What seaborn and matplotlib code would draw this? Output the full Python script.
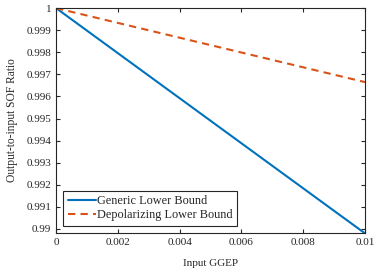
import numpy as np
import pandas as pd
import matplotlib
matplotlib.use("Agg")
import matplotlib.pyplot as plt
import matplotlib.ticker as mticker
import seaborn as sns

# === Data ===
ggep = [0.0, 0.01]
generic_bound = [1.0, 0.9898]
depol_bound = [1.0, 0.99665]
series_names = ["Generic Lower Bound", "Depolarizing Lower Bound"]
x_ticks = [0, 0.002, 0.004, 0.006, 0.008, 0.01]
y_ticks = [0.99, 0.991, 0.992, 0.993, 0.994, 0.995, 0.996, 0.997, 0.998, 0.999, 1.0]

df = pd.DataFrame({
    "ggep": ggep * 2,
    "ratio": generic_bound + depol_bound,
    "bound": [series_names[0]] * 2 + [series_names[1]] * 2,
})

# === Style ===
sns.set_theme(style="ticks")
plt.rcParams["font.family"] = ["Liberation Serif", "DejaVu Serif"]
plt.rcParams["axes.linewidth"] = 0.8

fig = plt.figure(figsize=(3.74, 2.80), dpi=100)
ax = fig.add_axes([0.150, 0.168, 0.826, 0.803])

sns.lineplot(
    data=df, x="ggep", y="ratio", hue="bound", style="bound",
    palette=["#0072BD", "#D95319"],
    dashes={series_names[0]: "", series_names[1]: (3.5, 2.5)},
    linewidth=1.5, ax=ax,
)

ax.set_xlim(0, 0.01)
ax.set_ylim(0.98982, 1.0)
ax.set_xticks(x_ticks)
ax.set_yticks(y_ticks)
ax.xaxis.set_major_formatter(mticker.FormatStrFormatter("%g"))
ax.yaxis.set_major_formatter(mticker.FormatStrFormatter("%g"))
ax.tick_params(direction="in", length=3, width=0.8, labelsize=8,
               top=True, right=True, colors="#262626", labelcolor="#262626")
for s in ax.spines.values():
    s.set_visible(True)
    s.set_color("#262626")

ax.set_xlabel("Input GGEP", fontsize=8, labelpad=9, color="#262626")
ax.set_ylabel("Output-to-input SOF Ratio", fontsize=8.3, labelpad=6, color="#262626")

leg = ax.legend(loc="lower left", fontsize=8.8, frameon=True, fancybox=False,
                borderpad=0.35, handlelength=2.3, handletextpad=0.1,
                labelspacing=0.2, borderaxespad=0.6)
leg.set_title(None)
leg.get_frame().set_edgecolor("#262626")
leg.get_frame().set_linewidth(0.8)
leg.get_frame().set_alpha(1)

fig.savefig("out.png", dpi=100)
plt.close(fig)
